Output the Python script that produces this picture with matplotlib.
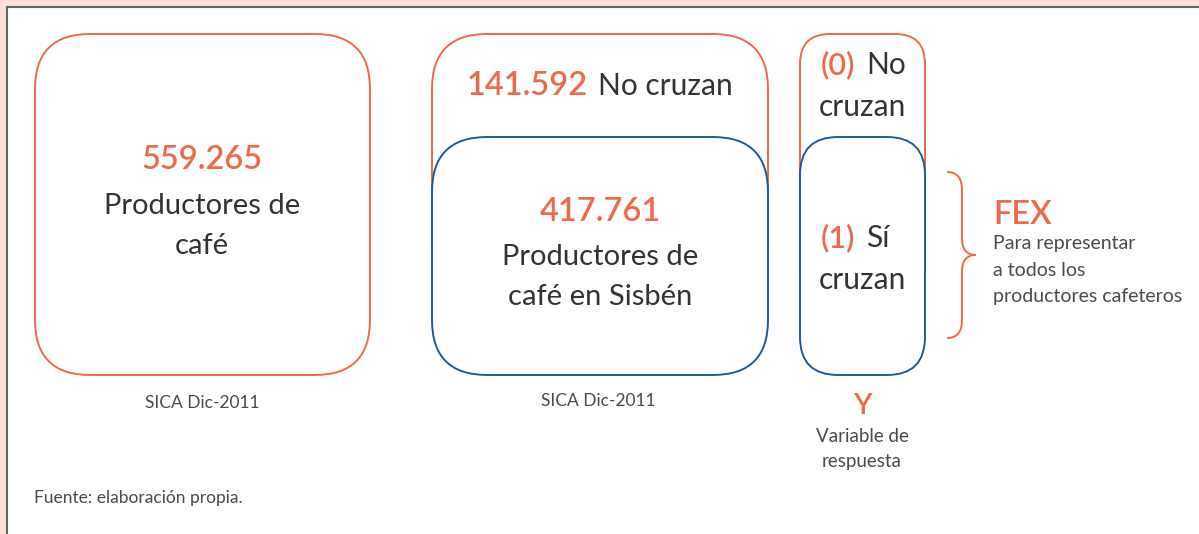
import matplotlib.pyplot as plt
from matplotlib.patches import FancyBboxPatch, Rectangle, PathPatch
from matplotlib.path import Path

ORANGE = "#EE6A4B"
BLUE = "#1F5C94"
TEXT = "#333333"
GRAY = "#4A4A4A"
PINK = "#FDE1D9"

# diagram content
totals = ["559.265", "141.592", "417.761"]
total_labels = ["Productores de\ncafé", "No cruzan", "Productores de\ncafé en Sisbén"]
sources = ["SICA Dic-2011", "SICA Dic-2011"]
codes = ["(0)", "(1)"]
code_labels = [("No", "cruzan"), ("Sí", "cruzan")]
y_title = "Y"
y_label = "Variable de\nrespuesta"
fex_title = "FEX"
fex_label = "Para representar\na todos los\nproductores cafeteros"
note = "Fuente: elaboración propia."

plt.rcParams["font.family"] = ["Lato", "DejaVu Sans"]
NUM_W = "semibold"

fig = plt.figure(figsize=(11.99, 5.34), dpi=100, facecolor=PINK)
ax = fig.add_axes([0, 0, 1, 1])
ax.set_xlim(0, 1199)
ax.set_ylim(534, 0)
ax.axis("off")

# white panel with a thin dark edge on top and left
ax.add_patch(Rectangle((8, 8), 1300, 600, facecolor="white", edgecolor="none",
                       clip_on=False))
ax.plot([7, 7], [7, 600], color="#666666", lw=1.5, clip_on=False)
ax.plot([7, 1300], [7, 7], color="#666666", lw=1.5, clip_on=False)


def box(x0, y0, x1, y1, color, radius, z=2):
    ax.add_patch(FancyBboxPatch(
        (x0, y0), x1 - x0, y1 - y0,
        boxstyle=f"round,pad=0,rounding_size={radius}",
        facecolor="white", edgecolor=color, lw=1.4, zorder=z,
    ))


# first block: all producers
box(35, 34, 370, 375, ORANGE, 55)
ax.text(202, 160, totals[0], color=ORANGE, fontsize=23.5, fontweight=NUM_W,
        ha="center", va="center", zorder=5)
ax.text(202, 226, total_labels[0], color=TEXT, fontsize=21,
        ha="center", va="center", linespacing=1.7, zorder=5)
ax.text(202, 403, sources[0], color=GRAY, fontsize=12.5,
        ha="center", va="center")

# second block: split by Sisbén match
box(432, 34, 768, 300, ORANGE, 55)
box(432, 137, 768, 375, BLUE, 55, z=3)
ax.text(588, 86, totals[1], color=ORANGE, fontsize=23.5, fontweight=NUM_W,
        ha="right", va="center", zorder=5)
ax.text(598, 86, total_labels[1], color=TEXT, fontsize=21.5,
        ha="left", va="center", zorder=5)
ax.text(600, 212, totals[2], color=ORANGE, fontsize=23.5, fontweight=NUM_W,
        ha="center", va="center", zorder=5)
ax.text(600, 277, total_labels[2], color=TEXT, fontsize=21,
        ha="center", va="center", linespacing=1.7, zorder=5)
ax.text(598, 401, sources[1], color=GRAY, fontsize=12.5,
        ha="center", va="center")

# third block: response variable
box(800, 34, 925, 300, ORANGE, 30)
box(800, 137, 925, 375, BLUE, 38, z=3)
for (code, (w1, w2)), yc in zip(zip(codes, code_labels), [65, 238]):
    ax.text(855, yc, code, color=ORANGE, fontsize=22, fontweight=NUM_W,
            ha="right", va="center", zorder=5)
    ax.text(866, yc, w1, color=TEXT, fontsize=21.5,
            ha="left", va="center", zorder=5)
    ax.text(862, yc + 42, w2, color=TEXT, fontsize=21.5,
            ha="center", va="center", zorder=5)

ax.text(862, 406, y_title, color=ORANGE, fontsize=21, fontweight=NUM_W,
        ha="center", va="center")
ax.text(862, 449, y_label, color=GRAY, fontsize=13.5,
        ha="center", va="center", linespacing=1.5)

# brace for the expansion factor
verts = [
    (947, 172), (957, 172), (962, 178), (962, 190),
    (962, 238),
    (962, 250), (967, 255), (976, 255),
    (967, 255), (962, 260), (962, 272),
    (962, 320),
    (962, 332), (957, 338), (947, 338),
]
codes_path = [Path.MOVETO, Path.CURVE4, Path.CURVE4, Path.CURVE4,
              Path.LINETO,
              Path.CURVE4, Path.CURVE4, Path.CURVE4,
              Path.CURVE4, Path.CURVE4, Path.CURVE4,
              Path.LINETO,
              Path.CURVE4, Path.CURVE4, Path.CURVE4]
ax.add_patch(PathPatch(Path(verts, codes_path), facecolor="none",
                       edgecolor=ORANGE, lw=1.4))

ax.text(993, 215, fex_title, color=ORANGE, fontsize=23.5, fontweight=NUM_W,
        ha="left", va="center")
ax.text(993, 270, fex_label, color=GRAY, fontsize=14,
        ha="left", va="center", linespacing=1.65)

ax.text(34, 498, note, color=GRAY, fontsize=12.5,
        ha="left", va="center")

fig.savefig("out.png", dpi=100, facecolor=PINK)
